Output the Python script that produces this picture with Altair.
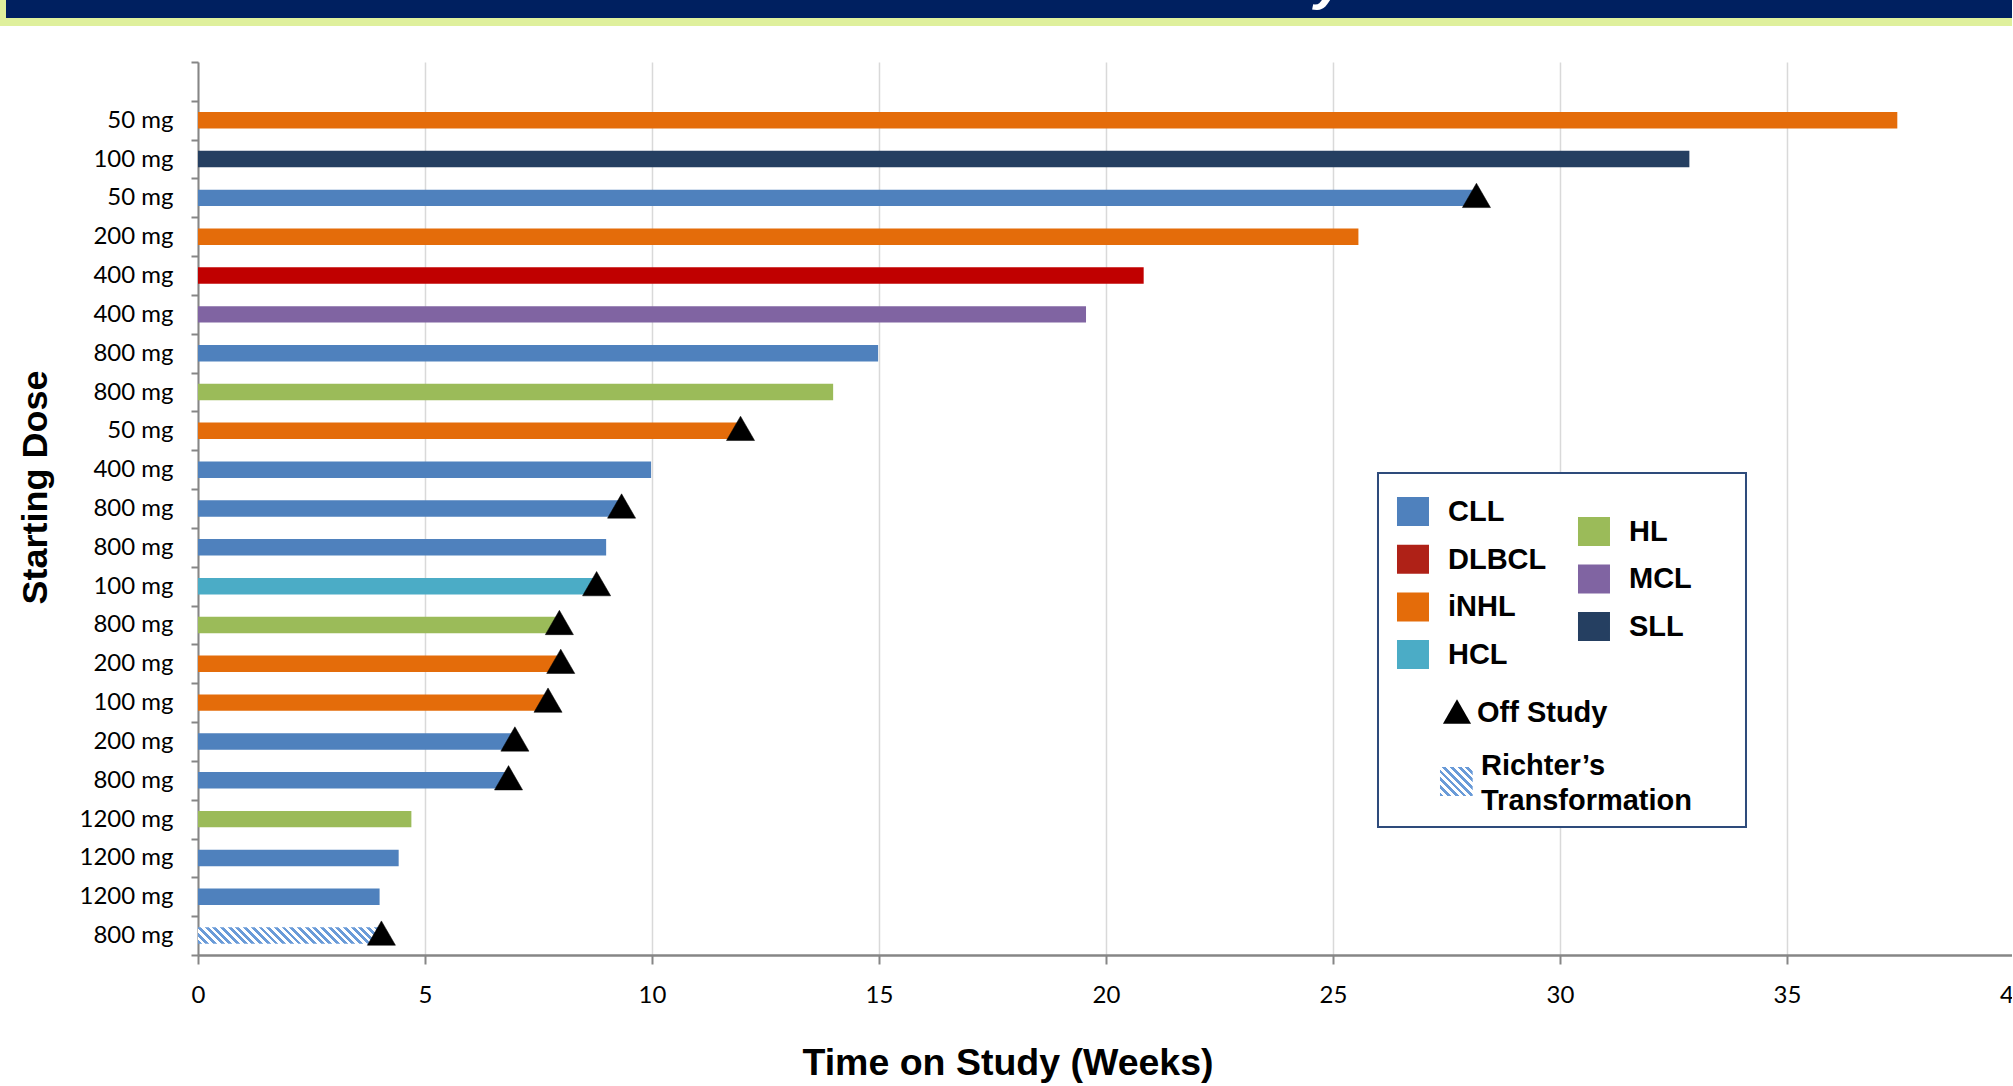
import altair as alt
import pandas as pd

# ---------------- data (top row first) ----------------
doses = ["50 mg", "100 mg", "50 mg", "200 mg", "400 mg", "400 mg", "800 mg", "800 mg",
         "50 mg", "400 mg", "800 mg", "800 mg", "100 mg", "800 mg", "200 mg", "100 mg",
         "200 mg", "800 mg", "1200 mg", "1200 mg", "1200 mg", "800 mg"]
diseases = ["iNHL", "SLL", "CLL", "iNHL", "DLBCL", "MCL", "CLL", "HL",
            "iNHL", "CLL", "CLL", "CLL", "HCL", "HL", "iNHL", "iNHL",
            "CLL", "CLL", "HL", "CLL", "CLL", "CLL"]
weeks = [37.43, 32.85, 28.16, 25.56, 20.83, 19.56, 14.98, 13.99,
         11.95, 9.98, 9.33, 8.99, 8.78, 7.96, 7.99, 7.71,
         6.98, 6.84, 4.70, 4.42, 4.00, 4.04]
off_study = [False, False, True, False, False, False, False, False,
             True, False, True, False, True, True, True, True,
             True, True, False, False, False, True]
richter = [False] * 21 + [True]

categories = ["CLL", "DLBCL", "iNHL", "HCL", "HL", "MCL", "SLL"]
bar_colors = ["#4F81BD", "#C00000", "#E46C0A", "#4BACC6", "#9BBB59", "#8064A2", "#253F61"]
legend_colors = ["#4F81BD", "#AF2117", "#E46C0A", "#4BACC6", "#9BBB59", "#8064A2", "#253F61"]
legend_col1 = ["CLL", "DLBCL", "iNHL", "HCL"]
legend_col2 = ["HL", "MCL", "SLL"]
x_ticks = [0, 5, 10, 15, 20, 25, 30, 35]

# ---------------- layout ----------------
X_MAX = 39.95
PX_PER_UNIT = 45.4
W = X_MAX * PX_PER_UNIT
TOP = 62
H = 893
N_ROWS = len(doses) + 1          # one empty slot on top
BAND = H / N_ROWS
BAR_FRAC = 0.424
LABEL_FONT = "Lato"
BOLD_FONT = "Liberation Sans"
DY = 60 - TOP                    # shift for items placed relative to y=60

df = pd.DataFrame({
    "row": list(range(1, len(doses) + 1)),
    "dose": doses,
    "disease": diseases,
    "weeks": weeks,
    "off": off_study,
    "richter": richter,
})

labels_js = "[" + ",".join(["''"] + [f"'{d}'" for d in doses]) + "]"


def hatch_gradient(w, h, period, c1, c2):
    s = (w + h) / (w * w + h * h)
    n = max(1, round((w + h) / period))
    stops = []
    for k in range(n):
        a, b, c = k / n, (k + 0.5) / n, (k + 1) / n
        stops += [{"offset": a, "color": c1}, {"offset": b, "color": c1},
                  {"offset": b, "color": c2}, {"offset": min(c, 1.0), "color": c2}]
    return {"gradient": "linear", "x1": 0, "y1": 1, "x2": s * w, "y2": 1 - s * h, "stops": stops}


x_scale = alt.Scale(domain=[0, X_MAX], nice=False, zero=True)
y_scale = alt.Scale(domain=list(range(N_ROWS)), paddingInner=0, paddingOuter=0)
x_axis = alt.Axis(values=x_ticks, grid=True, gridColor="#D9D9D9", gridWidth=1.5,
                  domainColor="#868686", domainWidth=2.5,
                  tickColor="#868686", tickWidth=2, tickSize=9,
                  labelFont=LABEL_FONT, labelFontSize=24, labelColor="#000000",
                  labelPadding=20, labelFlush=False,
                  title="Time on Study (Weeks)",
                  titleFont=BOLD_FONT, titleFontSize=37.5,
                  titleFontWeight="bold", titleColor="#000000",
                  titleX=809.5, titleY=120, titleAlign="center",
                  titleBaseline="alphabetic")
y_axis = alt.Axis(labelExpr=f"{labels_js}[datum.value]", tickBand="extent",
                  domainColor="#868686", domainWidth=2,
                  tickColor="#868686", tickWidth=2, tickSize=7,
                  labelFont=LABEL_FONT, labelFontSize=24, labelColor="#000000",
                  labelPadding=18, grid=False,
                  title="Starting Dose", titleFont=BOLD_FONT, titleFontSize=36,
                  titleFontWeight="bold", titleColor="#000000",
                  titleAngle=270, titleX=-151, titleY=487 - TOP, titleAlign="center",
                  titleBaseline="alphabetic")
x_enc = alt.X("weeks:Q", scale=x_scale, axis=x_axis)
y_enc = alt.Y("row:O", scale=y_scale, axis=y_axis)

base = alt.Chart(df)

bars = base.transform_filter("!datum.richter").mark_bar(height={"band": BAR_FRAC}).encode(
    x=x_enc, y=y_enc,
    color=alt.Color("disease:N", scale=alt.Scale(domain=categories, range=bar_colors), legend=None),
)

rich_w = [w for w, r in zip(weeks, richter) if r][0] * PX_PER_UNIT
hatch = base.transform_filter("datum.richter").mark_bar(
    height={"band": BAR_FRAC},
    fill=hatch_gradient(rich_w, BAR_FRAC * BAND, 7.7, "#6A9BD8", "#FFFFFF"),
).encode(x=x_enc, y=y_enc)

tri = base.transform_filter("datum.off").mark_point(
    shape="triangle-up", filled=True, size=790, color="#000000", opacity=1,
    yOffset=-2.5, stroke="#000000", strokeWidth=0.5,
).encode(x=x_enc, y=y_enc)

label40 = alt.Chart(pd.DataFrame({"v": ["40"]})).mark_text(
    font=LABEL_FONT, fontSize=24, color="#000000", baseline="top", align="center",
).encode(x=alt.datum(40), y=alt.value(H + 29), text="v:N")

data_layer = alt.layer(bars, hatch, tri, label40)

# ---------------- banner ----------------
one = pd.DataFrame({"a": [0]})
banner_green = alt.Chart(one).mark_rect(color="#DFF09C").encode(
    x=alt.value(-198), x2=alt.value(W + 10), y=alt.value(-TOP), y2=alt.value(26 - TOP))
banner_navy = alt.Chart(one).mark_rect(color="#002060").encode(
    x=alt.value(-192), x2=alt.value(W + 10), y=alt.value(-TOP), y2=alt.value(18 - TOP))
banner_glyph = alt.Chart(pd.DataFrame({"t": ["y"]})).mark_text(
    font=BOLD_FONT, fontSize=56, fontWeight="bold", fontStyle="italic", color="#FFFFFF",
    align="center", baseline="alphabetic").encode(
    x=alt.value(1132), y=alt.value(-2 - TOP), text="t:N")

# ---------------- legend ----------------
rows = []
for i, cat in enumerate(legend_col1):
    top = 437 + DY + i * 47.7
    rows.append(dict(label=cat, sx=1199, sx2=1231, sy=top, sy2=top + 29, tx=1250, ty=top + 15,
                     col=legend_colors[categories.index(cat)]))
for i, cat in enumerate(legend_col2):
    top = 457 + DY + i * 47.5
    rows.append(dict(label=cat, sx=1380, sx2=1412, sy=top, sy2=top + 29, tx=1431, ty=top + 15,
                     col=legend_colors[categories.index(cat)]))
leg = pd.DataFrame(rows)

leg_box = alt.Chart(one).mark_rect(fill="#FFFFFF", stroke="#2E4B7B", strokeWidth=2).encode(
    x=alt.value(1180), x2=alt.value(1548), y=alt.value(413 + DY), y2=alt.value(767 + DY))
leg_sw = alt.Chart(leg).mark_rect().encode(
    x=alt.X("sx:Q", scale=None, axis=None), x2="sx2:Q",
    y=alt.Y("sy:Q", scale=None, axis=None), y2="sy2:Q",
    color=alt.Color("col:N", scale=None, legend=None))
leg_tx = alt.Chart(leg).mark_text(
    align="left", baseline="middle", font=BOLD_FONT, fontSize=29, fontWeight="bold",
    color="#000000").encode(
    x=alt.X("tx:Q", scale=None, axis=None), y=alt.Y("ty:Q", scale=None, axis=None), text="label:N")

leg_tri = alt.Chart(one).mark_point(
    shape="triangle-up", filled=True, size=790, color="#000000", opacity=1).encode(
    x=alt.value(1259), y=alt.value(651.5 + DY))
leg_off = alt.Chart(pd.DataFrame({"t": ["Off Study"]})).mark_text(
    align="left", baseline="middle", font=BOLD_FONT, fontSize=29, fontWeight="bold",
    color="#000000").encode(x=alt.value(1279), y=alt.value(653 + DY), text="t:N")
leg_rich = alt.Chart(one).mark_rect(
    fill=hatch_gradient(32.7, 29, 7.7, "#6A9BD8", "#FFFFFF")).encode(
    x=alt.value(1242), x2=alt.value(1274.7), y=alt.value(707 + DY), y2=alt.value(736 + DY))
leg_rich_tx = alt.Chart(pd.DataFrame({"t": ["Richter\u2019s\nTransformation"]})).mark_text(
    align="left", baseline="middle", font=BOLD_FONT, fontSize=29, fontWeight="bold",
    color="#000000", lineBreak="\n", lineHeight=35).encode(
    x=alt.value(1283), y=alt.value(706 + DY), text="t:N")

legend_layer = alt.layer(leg_box, leg_sw, leg_tx, leg_tri, leg_off, leg_rich, leg_rich_tx)
deco_layer = alt.layer(banner_green, banner_navy, banner_glyph)

chart = alt.layer(data_layer, deco_layer, legend_layer).resolve_scale(
    x="independent", y="independent", color="independent"
).properties(
    width=W, height=H,
    autosize=alt.AutoSizeParams(type="none"),
    padding={"left": 198, "top": TOP, "right": 0, "bottom": 1085 - TOP - H},
    background="#FFFFFF",
).configure_view(stroke="transparent")

chart.save("out.html", embed_options={"renderer": "svg", "actions": False})
